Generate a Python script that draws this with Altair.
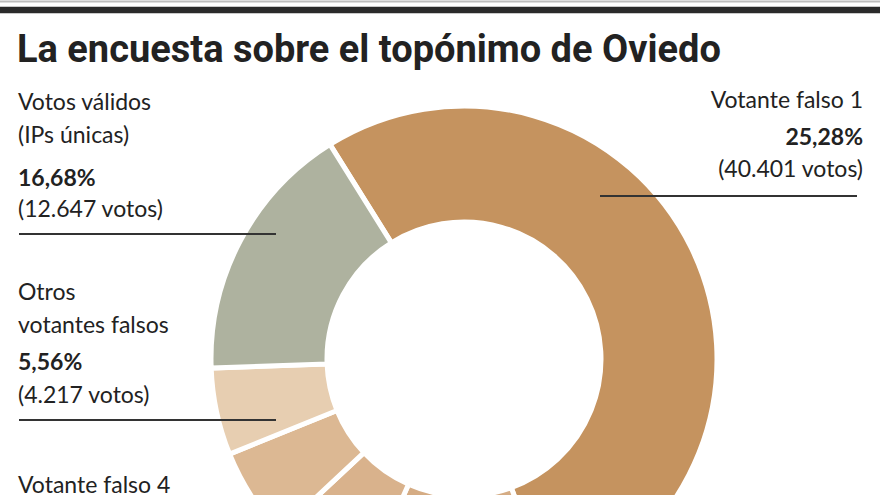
import math
import altair as alt
import pandas as pd

# ---- data ----
categories = ["Votante falso 1", "Votante falso 2", "Votante falso 3",
              "Votante falso 4", "Otros votantes falsos", "Votos válidos"]
votes = [40401, 9280, 4850, 4427, 4217, 12647]
colors = ["#C5935F", "#D5AC84", "#D9B28C", "#DCB893", "#E7CEB1", "#AEB29F"]

title_text = "La encuesta sobre el topónimo de Oviedo"
lbl_valid = ["Votos válidos", "(IPs únicas)", "16,68%", "(12.647 votos)"]
lbl_f1 = ["Votante falso 1", "25,28%", "(40.401 votos)"]
lbl_otros = ["Otros", "votantes falsos", "5,56%", "(4.217 votos)"]
lbl_f4 = ["Votante falso 4"]

df = pd.DataFrame({"cat": categories, "votes": votes, "idx": list(range(len(categories)))})
one = pd.DataFrame({"a": [0]})

W, H = 880, 495
CX, CY = 464, 359
R_OUT, R_IN = 253, 137
start = math.radians(-32)

BODY = "Lato, Open Sans, sans-serif"
TITLE_FONT = "Roboto, sans-serif"
INK = "#222222"

donut = alt.Chart(df).mark_arc(
    outerRadius=R_OUT, innerRadius=R_IN, stroke="white", strokeWidth=5, clip=True
).encode(
    theta=alt.Theta("votes:Q", stack=True,
                    scale=alt.Scale(range=[start, start + 2 * math.pi])),
    order=alt.Order("idx:Q"),
    color=alt.Color("cat:N", scale=alt.Scale(domain=categories, range=colors), legend=None),
    x=alt.value(CX),
    y=alt.value(CY),
)


def txt(s, x, y, size=23, bold=False, align="left", font=BODY):
    return alt.Chart(one).mark_text(
        text=s, font=font, fontSize=size, fontWeight="bold" if bold else "normal",
        align=align, baseline="alphabetic", color=INK
    ).encode(x=alt.value(x), y=alt.value(y))


def hline(x1, x2, y, color="#333333", w=2):
    return alt.Chart(one).mark_rule(color=color, strokeWidth=w).encode(
        x=alt.value(x1), x2=alt.value(x2), y=alt.value(y))


layers = [donut]
# top rules
layers.append(hline(0, W, 1.5, color="#BDBDBD", w=2))
layers.append(hline(0, W, 10, color="#2A2A2A", w=6.5))
# title
layers.append(txt(title_text, 17, 62, size=38, bold=True, font=TITLE_FONT))

# Votos válidos block
for s, y, b in zip(lbl_valid, [110, 143, 186, 217], [False, False, True, False]):
    layers.append(txt(s, 18, y, bold=b))
layers.append(hline(19, 276, 234))

# Votante falso 1 block
for s, y, b in zip(lbl_f1, [108, 145, 177], [False, True, False]):
    layers.append(txt(s, 863, y, bold=b, align="right"))
layers.append(hline(600, 857, 196))

# Otros block
for s, y, b in zip(lbl_otros, [300, 333, 370, 403], [False, False, True, False]):
    layers.append(txt(s, 18, y, bold=b))
layers.append(hline(19, 276, 420))

# Votante falso 4
layers.append(txt(lbl_f4[0], 18, 493))

chart = alt.layer(*layers).properties(
    width=W, height=H, padding=0,
    autosize=alt.AutoSizeParams(type="none"),
).configure_view(stroke=None)

chart.save("out.html", embed_options={"renderer": "svg", "actions": False})
